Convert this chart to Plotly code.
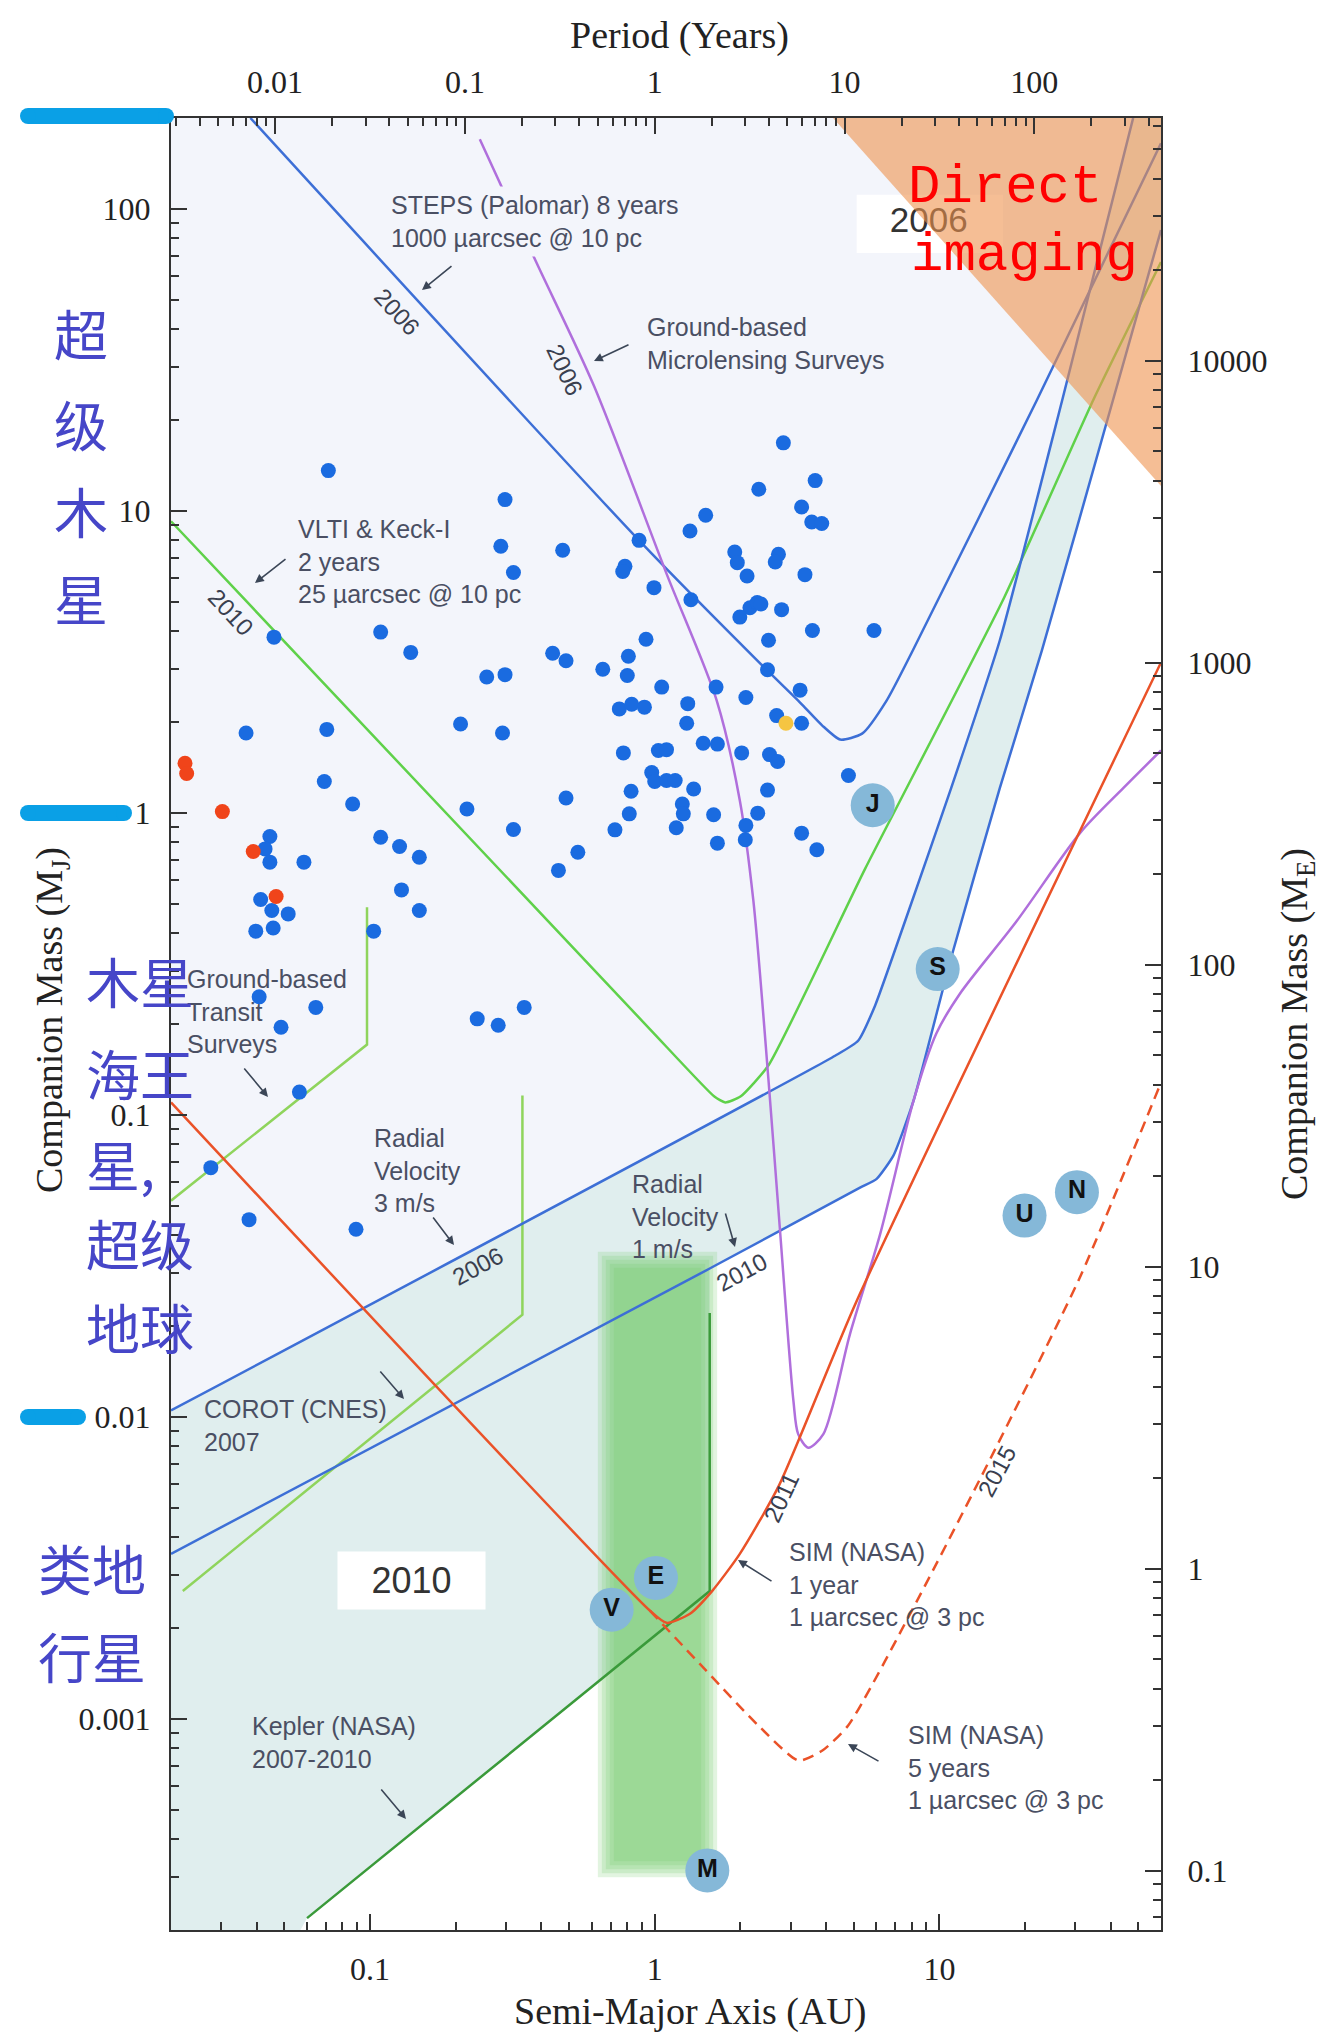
import numpy as np
import plotly.graph_objects as go

# ---------------- axis ranges ----------------
A_MIN, A_MAX = 0.02, 60.0      # semi-major axis (AU)
M_MIN, M_MAX = 2e-4, 200.0     # companion mass (Jupiter masses)
MJ_IN_ME = 317.8               # Earth masses per Jupiter mass

# ---------------- detection limits (AU, M_J) ----------------
steps_a = [0.038, 0.881, 2.47, 3.24, 3.87, 4.48, 5.35, 6.53, 8.06, 22.0, 60.0]
steps_m = [200, 7.99, 2.98, 2.32, 1.95, 1.75, 1.83, 2.36, 3.45, 23.3, 165]

micro_a = [0.243, 0.382, 0.611, 1.10, 1.65, 1.99, 2.22, 2.51, 2.76, 3.07, 3.19, 3.46,
           3.91, 4.85, 6.19, 8.10, 9.75, 11.8, 18.6, 31.3, 44.3, 60.0]
micro_m = [170, 67.2, 26.0, 6.20, 2.36, 1.10, 0.513, 0.130, 0.0404, 0.0113, 0.00877, 0.00791,
           0.00877, 0.0188, 0.0403, 0.111, 0.186, 0.252, 0.436, 0.862, 1.21, 1.61]

vlti_a = [0.02, 0.963, 1.62, 1.77, 2.0, 2.51, 5.49, 16.7, 34.7, 60.0]
vlti_m = [9.24, 0.192, 0.115, 0.110, 0.115, 0.146, 0.655, 5.06, 23.3, 66.7]

rv3_a = [0.02, 4.30, 5.18, 5.94, 7.76, 11.0, 16.3, 27.0, 47.9]
rv3_m = [0.0105, 0.157, 0.176, 0.230, 0.468, 1.21, 3.73, 23.3, 200]

rv1_a = [0.02, 1.56, 5.26, 6.02, 6.89, 8.10, 11.0, 16.3, 22.9, 40.7, 60.0]
rv1_m = [0.00352, 0.031, 0.0574, 0.0614, 0.0733, 0.111, 0.332, 1.21, 3.45, 23.3, 85.1]

transit_a = [0.02, 0.0976, 0.0976]
transit_m = [0.052, 0.171, 0.487]

corot_a = [0.022, 0.343, 0.343]
corot_m = [0.00265, 0.0218, 0.116]

kepler_a = [0.0601, 1.56, 1.56]
kepler_m = [0.000219, 0.00265, 0.0221]
kepler_floor_a = 0.057          # where the Kepler limit meets the lower axis

sim1_a = [0.02, 0.963, 1.10, 1.33, 1.59, 1.99, 2.73, 5.12, 60.0]
sim1_m = [0.110, 0.00228, 0.00208, 0.00223, 0.00265, 0.00352, 0.00592, 0.0242, 3.15]

sim5_a = [0.963, 1.51, 2.30, 3.20, 3.88, 4.78, 8.34, 15.6, 31.3, 60.0]
sim5_m = [0.00228, 0.00145, 0.000955, 0.000728, 0.000786, 0.000951, 0.00246, 0.00773, 0.0293, 0.128]

imaging_a = [4.23, 60.0, 60.0]
imaging_m = [200, 200, 12.1]

hz_a = [0.679, 1.54]            # habitable zone
hz_m = [0.00032, 0.0329]

# ---------------- known planets ----------------
rv_a = [0.0714, 0.298, 0.288, 0.319, 0.046, 0.109, 0.139, 0.257, 0.298, 0.208,
        0.292, 0.0367, 0.0705, 0.0691, 0.0869, 0.219, 0.319, 0.0445, 0.0428, 0.0445,
        0.0586, 0.109, 0.127, 0.149, 0.129, 0.149, 0.0413, 0.0452, 0.0516, 0.0397,
        0.0457, 0.103, 0.0408, 0.0645, 0.0487, 0.238, 0.282, 0.348, 0.0565, 0.0276,
        0.0376, 0.0893,
        0.438, 0.488, 0.657, 0.808, 0.801, 0.932, 0.751, 0.830, 0.920, 1.058,
        1.306, 1.295, 1.642, 2.09, 3.24, 2.51, 2.49, 2.68, 3.28,
        0.776, 1.03, 1.10, 1.48, 1.66, 2.02, 2.53, 2.70, 4.79, 0.976,
        1.00, 1.10, 1.18, 1.37, 0.826, 0.488, 0.814, 0.725, 1.25, 1.26,
        1.19, 1.61, 2.30, 2.09, 2.49, 1.66, 2.08, 3.28, 3.71, 0.537, 0.459,
        2.83, 3.66, 2.32, 3.28, 3.56, 3.86, 1.51, 1.33, 0.881, 0.475,
        0.786, 0.772, 1.91, 1.95, 2.11, 2.72, 2.65, 3.37, 0.994, 1.34,
        2.16, 2.29, 2.36, 1.99, 2.79, 3.58, 5.89]
rv_m = [13.6, 10.9, 7.64, 6.25, 3.82, 3.97, 3.40, 2.82, 2.87, 1.97,
        1.84, 1.84, 1.89, 1.27, 1.07, 1.03, 0.881, 0.835, 0.76, 0.687,
        0.687, 0.831, 0.774, 0.713, 0.556, 0.475, 0.517, 0.475, 0.463, 0.406,
        0.416, 0.406, 0.246, 0.227, 0.195, 0.208, 0.198, 0.227, 0.119, 0.0669,
        0.045, 0.0418,
        3.38, 3.19, 2.99, 3.30, 2.85, 3.76, 2.21, 2.29, 2.24, 2.61,
        2.30, 1.98, 2.61, 2.41, 2.55, 3.73, 2.98, 2.10, 1.98,
        1.58, 1.61, 1.62, 1.70, 1.69, 1.58, 1.56, 1.48, 1.33, 1.36,
        1.27, 1.28, 1.28, 1.20, 1.18, 1.12, 0.993, 0.879, 1.07, 0.993,
        0.893, 0.986, 0.998, 0.909, 1.19, 0.794, 0.815, 0.857, 0.755, 0.741, 0.645,
        16.8, 12.6, 11.8, 10.3, 9.19, 9.08, 9.67, 8.58, 7.99, 7.41,
        6.56, 6.30, 7.31, 6.74, 6.09, 7.18, 6.77, 6.15, 5.57, 5.08,
        4.78, 4.97, 4.92, 4.45, 4.71, 4.02, 4.02]

transit_pl_a = [0.0224, 0.0227, 0.0303, 0.0389, 0.0468]
transit_pl_m = [1.46, 1.35, 1.01, 0.745, 0.529]

microlens_pl_a = [2.89]
microlens_pl_m = [1.98]

solar_names = ["J", "S", "U", "N", "V", "E", "M"]
solar_a = [5.83, 9.86, 19.9, 30.4, 0.706, 1.01, 1.53]
solar_m = [1.06, 0.304, 0.0464, 0.0555, 0.0023, 0.00293, 0.000315]

# ---------------- styling ----------------
W, H = 1325, 2033
PL, PR, PT, PB = 171, 1161, 118, 1930          # plot area in page pixels
LAVENDER = "#f3f5fb"
TEAL = "#e0eeee"
BLUE = "#3d6fd6"
PURPLE = "#b06fdc"
GREEN = "#5fd14a"
LGREEN = "#8fd45c"
DGREEN = "#3a9a3a"
RED = "#ea5228"
LABEL_C = "#4a4f63"
SANS = "Liberation Sans, Arial, sans-serif"
SERIF = "Liberation Serif, Times New Roman, serif"
MONO = "Liberation Mono, Courier New, monospace"
CJK = "Noto Sans CJK SC"
CJK_C = "#4646c8"


def px(x, y):
    """page pixel -> paper coordinates"""
    return (x - PL) / (PR - PL), (PB - y) / (PB - PT)


fig = go.Figure()


def area(xs, ys, color):
    fig.add_trace(go.Scatter(x=xs, y=ys, mode="lines", fill="toself", fillcolor=color,
                             line=dict(width=0), hoverinfo="skip", showlegend=False))


def curve(xs, ys, color, width=2.5, dash="solid", smooth=None):
    line = dict(color=color, width=width, dash=dash)
    if smooth:
        line.update(shape="spline", smoothing=smooth)
    fig.add_trace(go.Scatter(x=xs, y=ys, mode="lines", line=line,
                             hoverinfo="skip", showlegend=False))


# shaded sensitivity regions
area(rv3_a + [A_MIN], rv3_m + [M_MAX], LAVENDER)
rv1_hi = [(a, m) for a, m in zip(rv1_a, rv1_m) if a >= kepler_a[-1]]
teal_pts = (list(zip(rv3_a, rv3_m)) + [(A_MAX, M_MAX)] + rv1_hi[::-1]
            + list(zip(kepler_a, kepler_m))[::-1] + [(kepler_floor_a, M_MIN), (A_MIN, M_MIN)])
area([p[0] for p in teal_pts], [p[1] for p in teal_pts], TEAL)

# white tag behind the "2006" imaging label
area([5.12, 16.7, 16.7, 5.12], [111.3, 111.3, 71.5, 71.5], "white")
fig.add_trace(go.Scatter(x=[9.17], y=[89.8], mode="text", text=["2006"],
                         textfont=dict(family=SANS, size=35, color="#333333"),
                         hoverinfo="skip", showlegend=False))

# habitable zone, soft edged
lx = (PR - PL) / np.log10(A_MAX / A_MIN)
ly = (PB - PT) / np.log10(M_MAX / M_MIN)
for pad in [9, 5, 1, -3, -7]:
    fx, fy = 10 ** (pad / lx), 10 ** (pad / ly)
    x0, x1 = hz_a[0] / fx, hz_a[1] * fx
    y0, y1 = hz_m[0] / fy, hz_m[1] * fy
    area([x0, x1, x1, x0], [y0, y0, y1, y1], "rgba(110,200,100,0.2)")

# detection-limit curves
curve(kepler_a, kepler_m, DGREEN)
curve(corot_a, corot_m, LGREEN)
curve(transit_a, transit_m, LGREEN)
curve(vlti_a, vlti_m, GREEN, smooth=0.5)
curve(rv3_a, rv3_m, BLUE, smooth=0.5)
curve(rv1_a, rv1_m, BLUE, smooth=0.5)
curve(steps_a, steps_m, BLUE, smooth=0.6)
curve(micro_a, micro_m, PURPLE, smooth=0.8)
curve(sim1_a, sim1_m, RED, smooth=0.6)
curve(sim5_a, sim5_m, RED, dash="11px,7px", smooth=0.6)

# direct imaging region
area(imaging_a, imaging_m, "rgba(238,147,79,0.6)")

# known exoplanets
fig.add_trace(go.Scatter(x=rv_a, y=rv_m, mode="markers",
                         marker=dict(size=15, color="#1a6be0", line=dict(width=0)),
                         hoverinfo="skip", showlegend=False))
fig.add_trace(go.Scatter(x=transit_pl_a, y=transit_pl_m, mode="markers",
                         marker=dict(size=15, color="#f0441a", line=dict(width=0)),
                         hoverinfo="skip", showlegend=False))
fig.add_trace(go.Scatter(x=microlens_pl_a, y=microlens_pl_m, mode="markers",
                         marker=dict(size=15, color="#f5c542", line=dict(width=0)),
                         hoverinfo="skip", showlegend=False))

# solar system planets
fig.add_trace(go.Scatter(x=solar_a, y=solar_m, mode="markers+text",
                         text=[f"<b>{n}</b>" for n in solar_names], textposition="middle center",
                         textfont=dict(family=SANS, size=25, color="#111111"),
                         marker=dict(size=44, color="#85b8d8", line=dict(width=0)),
                         hoverinfo="skip", showlegend=False))

# secondary axes carrier
fig.add_trace(go.Scatter(x=[A_MIN ** 1.5, A_MAX ** 1.5], y=[M_MIN * MJ_IN_ME, M_MAX * MJ_IN_ME],
                         xaxis="x2", yaxis="y2", mode="markers", marker=dict(opacity=0),
                         hoverinfo="skip", showlegend=False))

axis_common = dict(
    type="log", showgrid=False, zeroline=False, showline=True, linecolor="#333333", linewidth=2,
    ticks="inside", ticklen=16, tickwidth=2, tickcolor="#333333",
    tickmode="linear", tick0=0, dtick=1, tickformat="~g",
    tickfont=dict(family=SERIF, size=32, color="#222222"),
    minor=dict(ticks="inside", ticklen=8, tickwidth=1.5, tickcolor="#333333", dtick="D1", showgrid=False),
)

fig.update_layout(
    width=W, height=H,
    margin=dict(l=PL, r=W - PR, t=PT, b=H - PB),
    paper_bgcolor="white", plot_bgcolor="white", showlegend=False,
    xaxis=dict(range=[np.log10(A_MIN), np.log10(A_MAX)], ticklabelstandoff=10, **axis_common),
    yaxis=dict(range=[np.log10(M_MIN), np.log10(M_MAX)], ticklabelstandoff=12, **axis_common),
    xaxis2=dict(range=[1.5 * np.log10(A_MIN), 1.5 * np.log10(A_MAX)], overlaying="x", side="top",
                anchor="y", ticklabelstandoff=10, **axis_common),
    yaxis2=dict(range=[np.log10(M_MIN * MJ_IN_ME), np.log10(M_MAX * MJ_IN_ME)], overlaying="y",
                side="right", anchor="x", ticklabelstandoff=18, **axis_common),
)

ann = []


def text(t, x, y, size=25, color=LABEL_C, family=SANS, xanchor="left", angle=0, align="left", **kw):
    xp, yp = px(x, y)
    ann.append(dict(text=t, x=xp, y=yp, xref="paper", yref="paper", xanchor=xanchor,
                    yanchor="middle", align=align, showarrow=False, textangle=angle,
                    font=dict(family=family, size=size, color=color), **kw))


def arrow(x0, y0, x1, y1):
    xp, yp = px(x1, y1)
    ann.append(dict(text="", x=xp, y=yp, xref="paper", yref="paper", ax=x0 - x1, ay=y0 - y1,
                    axref="pixel", ayref="pixel", showarrow=True, arrowhead=2, arrowsize=1.1,
                    arrowwidth=1.6, arrowcolor="#3b4657"))


# axis titles
text("Period (Years)", 679, 35, size=38, color="#222222", family=SERIF, xanchor="center")
text("Semi-Major Axis (AU)", 690, 2012, size=38, color="#222222", family=SERIF, xanchor="center")
text("Companion Mass (M<sub>J</sub>)", 52, 1020, size=38, color="#222222", family=SERIF,
     xanchor="center", angle=-90)
text("Companion Mass (M<sub>E</sub>)", 1297, 1024, size=38, color="#222222", family=SERIF,
     xanchor="center", angle=-90)

# survey labels
text("STEPS (Palomar) 8 years<br>1000 µarcsec @ 10 pc", 386, 221, bgcolor=LAVENDER, borderpad=4)
text("Ground-based<br>Microlensing Surveys", 645, 344)
text("VLTI & Keck-I<br>2 years<br>25 µarcsec @ 10 pc", 296, 561)
text("Ground-based<br>Transit<br>Surveys", 185, 1011)
text("Radial<br>Velocity<br>3 m/s", 372, 1170)
text("Radial<br>Velocity<br>1 m/s", 630, 1217)
text("COROT (CNES)<br>2007", 202, 1425)
text("Kepler (NASA)<br>2007-2010", 250, 1742)
text("SIM (NASA)<br>1 year<br>1 µarcsec @ 3 pc", 787, 1584)
text("SIM (NASA)<br>5 years<br>1 µarcsec @ 3 pc", 906, 1767)

arrow(453, 265, 422, 290)
arrow(630, 344, 594, 361)
arrow(287, 558, 255, 583)
arrow(243, 1067, 268, 1097)
arrow(432, 1216, 454, 1245)
arrow(725, 1212, 735, 1247)
arrow(379, 1370, 404, 1399)
arrow(380, 1788, 406, 1819)
arrow(773, 1582, 738, 1560)
arrow(880, 1762, 848, 1744)

# year tags along the curves
text("2006", 397, 311, size=24, color="#3a3f4f", xanchor="center", angle=47)
text("2006", 565, 369, size=24, color="#3a3f4f", xanchor="center", angle=65)
text("2010", 230, 612, size=24, color="#3a3f4f", xanchor="center", angle=47)
text("2006", 477, 1266, size=24, color="#3a3f4f", xanchor="center", angle=-28)
text("2010", 741, 1272, size=24, color="#3a3f4f", xanchor="center", angle=-28)
text("2011", 781, 1497, size=24, color="#3a3f4f", xanchor="center", angle=-65)
text("2015", 997, 1472, size=24, color="#3a3f4f", xanchor="center", angle=-62)
text("2010", 411, 1580, size=36, color="#333333", xanchor="center", align="center",
     bgcolor="white", width=141, height=51, borderpad=3)

# region labels
text("Direct", 906, 188, size=54, color="#ff0000", family=MONO)
text("imaging", 909, 255, size=54, color="#ff0000", family=MONO)

for ch, y in zip("超级木星", [332, 423, 510, 597]):
    text(ch, 81, y, size=54, color=CJK_C, family=CJK, xanchor="center")
for t, y in zip(["木星", "海王", "星,", "超级", "地球"], [980, 1072, 1163, 1242, 1326]):
    text(t, 84, y, size=54, color=CJK_C, family=CJK)
for t, y in zip(["类地", "行星"], [1567, 1655]):
    text(t, 36, y, size=54, color=CJK_C, family=CJK)

fig.update_layout(annotations=ann)

# cyan range markers on the left margin
shapes = []
BAR = "#0aa0e6"
for x0, x1, yc in [(20, 174, 116), (20, 132, 813), (20, 86, 1417)]:
    r = 8
    a0, b0 = px(x0 + r, yc - r)
    a1, b1 = px(x1 - r, yc + r)
    shapes.append(dict(type="rect", xref="paper", yref="paper", x0=a0, x1=a1, y0=b1, y1=b0,
                       fillcolor=BAR, line=dict(width=0)))
    for cx in (x0 + r, x1 - r):
        c0, d0 = px(cx - r, yc - r)
        c1, d1 = px(cx + r, yc + r)
        shapes.append(dict(type="circle", xref="paper", yref="paper", x0=c0, x1=c1, y0=d1, y1=d0,
                           fillcolor=BAR, line=dict(width=0)))
fig.update_layout(shapes=shapes)

fig.write_html("out.html", config={"displayModeBar": False})
